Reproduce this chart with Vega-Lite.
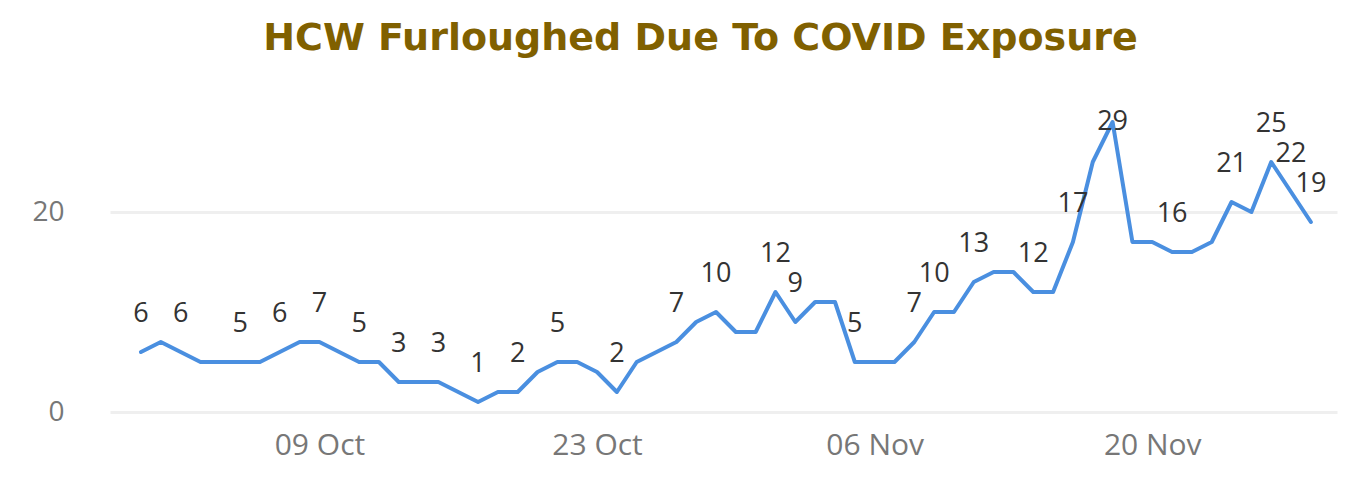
{
  "$schema": "https://vega.github.io/schema/vega-lite/v6.json",
  "autosize": {"type": "none"},
  "padding": {"left": 110, "top": 112, "right": 30, "bottom": 83},
  "width": 1227,
  "height": 300,
  "background": "white",
  "title": {
    "text": "HCW Furloughed Due To COVID Exposure",
    "font": "DejaVu Sans",
    "fontSize": 38,
    "fontWeight": "bold",
    "color": "#806000",
    "anchor": "middle",
    "dx": -23,
    "offset": 20,
    "baseline": "alphabetic"
  },
  "data": {
    "values": [
      {"date": "2020-09-30", "v": 6, "lab": 1},
      {"date": "2020-10-01", "v": 7, "lab": 0},
      {"date": "2020-10-02", "v": 6, "lab": 1},
      {"date": "2020-10-03", "v": 5, "lab": 0},
      {"date": "2020-10-04", "v": 5, "lab": 0},
      {"date": "2020-10-05", "v": 5, "lab": 1},
      {"date": "2020-10-06", "v": 5, "lab": 0},
      {"date": "2020-10-07", "v": 6, "lab": 1},
      {"date": "2020-10-08", "v": 7, "lab": 0},
      {"date": "2020-10-09", "v": 7, "lab": 1},
      {"date": "2020-10-10", "v": 6, "lab": 0},
      {"date": "2020-10-11", "v": 5, "lab": 1},
      {"date": "2020-10-12", "v": 5, "lab": 0},
      {"date": "2020-10-13", "v": 3, "lab": 1},
      {"date": "2020-10-14", "v": 3, "lab": 0},
      {"date": "2020-10-15", "v": 3, "lab": 1},
      {"date": "2020-10-16", "v": 2, "lab": 0},
      {"date": "2020-10-17", "v": 1, "lab": 1},
      {"date": "2020-10-18", "v": 2, "lab": 0},
      {"date": "2020-10-19", "v": 2, "lab": 1},
      {"date": "2020-10-20", "v": 4, "lab": 0},
      {"date": "2020-10-21", "v": 5, "lab": 1},
      {"date": "2020-10-22", "v": 5, "lab": 0},
      {"date": "2020-10-23", "v": 4, "lab": 0},
      {"date": "2020-10-24", "v": 2, "lab": 1},
      {"date": "2020-10-25", "v": 5, "lab": 0},
      {"date": "2020-10-26", "v": 6, "lab": 0},
      {"date": "2020-10-27", "v": 7, "lab": 1},
      {"date": "2020-10-28", "v": 9, "lab": 0},
      {"date": "2020-10-29", "v": 10, "lab": 1},
      {"date": "2020-10-30", "v": 8, "lab": 0},
      {"date": "2020-10-31", "v": 8, "lab": 0},
      {"date": "2020-11-01", "v": 12, "lab": 1},
      {"date": "2020-11-02", "v": 9, "lab": 1},
      {"date": "2020-11-03", "v": 11, "lab": 0},
      {"date": "2020-11-04", "v": 11, "lab": 0},
      {"date": "2020-11-05", "v": 5, "lab": 1},
      {"date": "2020-11-06", "v": 5, "lab": 0},
      {"date": "2020-11-07", "v": 5, "lab": 0},
      {"date": "2020-11-08", "v": 7, "lab": 1},
      {"date": "2020-11-09", "v": 10, "lab": 1},
      {"date": "2020-11-10", "v": 10, "lab": 0},
      {"date": "2020-11-11", "v": 13, "lab": 1},
      {"date": "2020-11-12", "v": 14, "lab": 0},
      {"date": "2020-11-13", "v": 14, "lab": 0},
      {"date": "2020-11-14", "v": 12, "lab": 1},
      {"date": "2020-11-15", "v": 12, "lab": 0},
      {"date": "2020-11-16", "v": 17, "lab": 1},
      {"date": "2020-11-17", "v": 25, "lab": 0},
      {"date": "2020-11-18", "v": 29, "lab": 1},
      {"date": "2020-11-19", "v": 17, "lab": 0},
      {"date": "2020-11-20", "v": 17, "lab": 0},
      {"date": "2020-11-21", "v": 16, "lab": 1},
      {"date": "2020-11-22", "v": 16, "lab": 0},
      {"date": "2020-11-23", "v": 17, "lab": 0},
      {"date": "2020-11-24", "v": 21, "lab": 1},
      {"date": "2020-11-25", "v": 20, "lab": 0},
      {"date": "2020-11-26", "v": 25, "lab": 1},
      {"date": "2020-11-27", "v": 22, "lab": 1},
      {"date": "2020-11-28", "v": 19, "lab": 1}
    ]
  },
  "encoding": {
    "x": {
      "field": "date",
      "type": "temporal",
      "scale": {
        "type": "utc",
        "domain": [
          {"year": 2020, "month": 9, "date": 28, "hours": 10, "minutes": 30, "utc": true},
          {"year": 2020, "month": 11, "date": 29, "hours": 7, "minutes": 37, "utc": true}
        ]
      },
      "axis": {
        "title": null,
        "values": [
          {"year": 2020, "month": 10, "date": 9, "utc": true},
          {"year": 2020, "month": 10, "date": 23, "utc": true},
          {"year": 2020, "month": 11, "date": 6, "utc": true},
          {"year": 2020, "month": 11, "date": 20, "utc": true}
        ],
        "format": "%d %b",
        "labelFont": "Open Sans",
        "labelFontSize": 30,
        "labelColor": "#777777",
        "labelPadding": 18,
        "grid": false,
        "domain": false,
        "ticks": false,
        "tickSize": 0
      }
    },
    "y": {
      "field": "v",
      "type": "quantitative",
      "scale": {"domain": [0, 30], "nice": false},
      "axis": {
        "title": null,
        "values": [0, 20],
        "labelFont": "Open Sans",
        "labelFontSize": 28,
        "labelColor": "#777777",
        "labelPadding": 46,
        "grid": true,
        "gridColor": "#EFEFEF",
        "gridWidth": 3,
        "domain": false,
        "ticks": false,
        "tickSize": 0
      }
    }
  },
  "layer": [
    {
      "mark": {"type": "line", "color": "#4A8FE0", "strokeWidth": 4, "strokeJoin": "round", "strokeCap": "round"}
    },
    {
      "transform": [{"filter": "datum.lab == 1 && datum.v < 28"}],
      "mark": {"type": "text", "dy": -38, "baseline": "middle", "align": "center", "font": "Open Sans", "fontSize": 27, "color": "#333333"},
      "encoding": {"text": {"field": "v", "type": "quantitative"}}
    },
    {
      "transform": [{"filter": "datum.lab == 1 && datum.v >= 28"}],
      "mark": {"type": "text", "dy": 0, "baseline": "middle", "align": "center", "font": "Open Sans", "fontSize": 27, "color": "#333333"},
      "encoding": {"text": {"field": "v", "type": "quantitative"}}
    }
  ],
  "config": {"view": {"stroke": null}}
}
